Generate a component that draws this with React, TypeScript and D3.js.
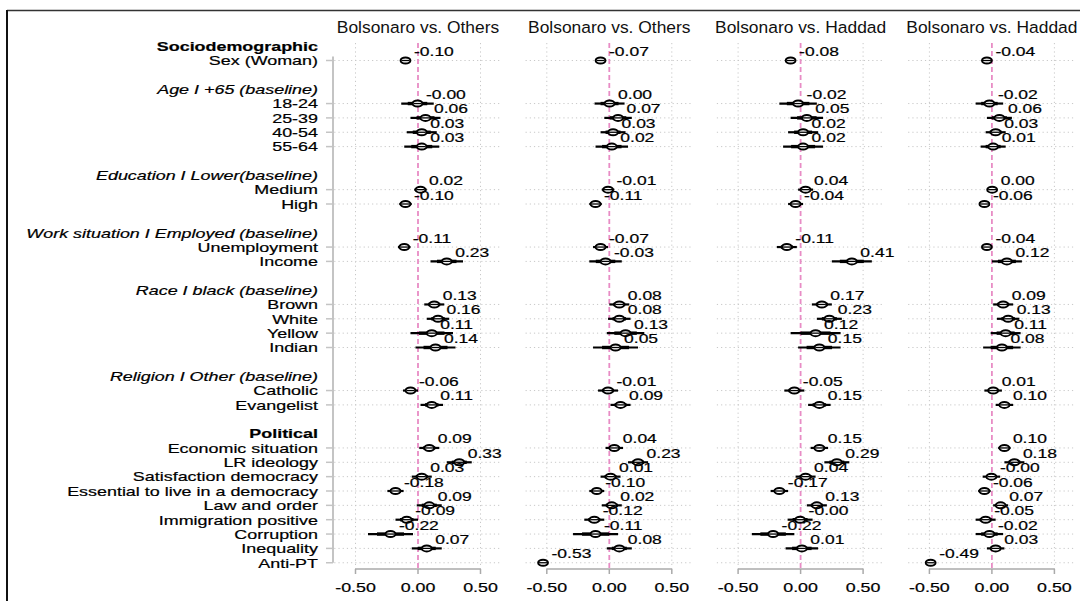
import * as d3 from "d3";

// rows from top to bottom; "" = blank spacer row
const rowLabels = [
  "Sociodemographic", "Sex (Woman)", "",
  "Age I +65 (baseline)", "18-24", "25-39", "40-54", "55-64", "",
  "Education I Lower(baseline)", "Medium", "High", "",
  "Work situation I Employed (baseline)", "Unemployment", "Income", "",
  "Race I black (baseline)", "Brown", "White", "Yellow", "Indian", "",
  "Religion I Other (baseline)", "Catholic", "Evangelist", "",
  "Political", "Economic situation", "LR ideology", "Satisfaction democracy",
  "Essential to live in a democracy", "Law and order", "Immigration positive",
  "Corruption", "Inequality", "Anti-PT",
];
const boldHeadings = ["Sociodemographic", "Political"];
const italicHeadings = [
  "Age I +65 (baseline)", "Education I Lower(baseline)",
  "Work situation I Employed (baseline)", "Race I black (baseline)",
  "Religion I Other (baseline)",
];

const items = [
  "Sex (Woman)", "18-24", "25-39", "40-54", "55-64", "Medium", "High",
  "Unemployment", "Income", "Brown", "White", "Yellow", "Indian", "Catholic",
  "Evangelist", "Economic situation", "LR ideology", "Satisfaction democracy",
  "Essential to live in a democracy", "Law and order", "Immigration positive",
  "Corruption", "Inequality", "Anti-PT",
];

const panelTitles = [
  "Bolsonaro vs. Others", "Bolsonaro vs. Others",
  "Bolsonaro vs. Haddad", "Bolsonaro vs. Haddad",
];

// point estimates (null = not in model)
const est1 = [-0.10, -0.004, 0.06, 0.03, 0.03, 0.02, -0.10, -0.11, 0.23, 0.13, 0.16, 0.11, 0.14, -0.06, 0.11, 0.09, 0.33, 0.03, -0.18, 0.09, -0.09, -0.22, 0.07, null];
const est2 = [-0.07, 0.002, 0.07, 0.03, 0.02, -0.01, -0.11, -0.07, -0.03, 0.08, 0.08, 0.13, 0.05, -0.01, 0.09, 0.04, 0.23, 0.01, -0.10, 0.02, -0.12, -0.11, 0.08, -0.53];
const est3 = [-0.08, -0.02, 0.05, 0.02, 0.02, 0.04, -0.04, -0.11, 0.41, 0.17, 0.23, 0.12, 0.15, -0.05, 0.15, 0.15, 0.29, 0.04, -0.17, 0.13, -0.004, -0.22, 0.01, null];
const est4 = [-0.04, -0.02, 0.06, 0.03, 0.01, 0.002, -0.06, -0.04, 0.12, 0.09, 0.13, 0.11, 0.08, 0.01, 0.10, 0.10, 0.18, -0.004, -0.06, 0.07, -0.05, -0.02, 0.03, -0.49];

// half width of the 95% interval
const ci1 = [0.03, 0.13, 0.12, 0.12, 0.14, 0.05, 0.05, 0.05, 0.13, 0.08, 0.09, 0.17, 0.16, 0.06, 0.09, 0.08, 0.10, 0.08, 0.065, 0.10, 0.09, 0.18, 0.12, 0];
const ci2 = [0.03, 0.12, 0.11, 0.10, 0.13, 0.05, 0.05, 0.06, 0.13, 0.08, 0.09, 0.15, 0.18, 0.08, 0.08, 0.07, 0.08, 0.08, 0.06, 0.08, 0.08, 0.18, 0.10, 0.02];
const ci3 = [0.03, 0.15, 0.13, 0.12, 0.16, 0.06, 0.06, 0.08, 0.16, 0.08, 0.10, 0.20, 0.17, 0.08, 0.09, 0.07, 0.10, 0.08, 0.07, 0.08, 0.10, 0.17, 0.13, 0];
const ci4 = [0.025, 0.11, 0.10, 0.08, 0.10, 0.04, 0.04, 0.04, 0.12, 0.08, 0.09, 0.12, 0.15, 0.07, 0.07, 0.05, 0.08, 0.07, 0.05, 0.06, 0.08, 0.11, 0.07, 0.02];

const estimates = [est1, est2, est3, est4];
const intervals = [ci1, ci2, ci3, ci4];
const xTicks = [-0.5, 0, 0.5];

const FONT = "'Liberation Sans', Arial, Helvetica, sans-serif";

// text drawn horizontally stretched, like the original export
function SText({ x, y, anchor = "start", size = 12.8, sx = 1.4, weight = "normal", italic = false, children }: any) {
  return (
    <text
      transform={`translate(${x},${y}) scale(${sx},1)`}
      textAnchor={anchor}
      fontSize={size}
      fontWeight={weight}
      fontStyle={italic ? "italic" : "normal"}
      fill="#000"
      stroke="#000"
      strokeWidth={0.2}
    >
      {children}
    </text>
  );
}

export default function App() {
  const width = 1080;
  const height = 601;

  const y = d3.scaleLinear().domain([0, rowLabels.length - 1]).range([46.15, 562.75]);
  const panelX = d3.scaleLinear().domain([0, 1]).range([418, 609.3]);
  const axisY = 569;
  const panelTop = 43;
  const fmt = (v: number) => v.toFixed(2);

  return (
    <div style={{ position: "fixed", left: 0, top: 0, width, height, overflow: "hidden", background: "#fff" }}>
      <svg width={width} height={height} style={{ display: "block", fontFamily: FONT }}>
        <rect width={width} height={height} fill="#fff" />
        {/* frame */}
        <line x1={7} x2={width + 5} y1={10.5} y2={10.5} stroke="#333" strokeWidth={1.6} />
        <line x1={7} x2={7} y1={10} y2={height + 5} stroke="#111" strokeWidth={2} />

        {/* y axis */}
        <line x1={333} x2={333} y1={y(1) - 4} y2={y(rowLabels.length - 1)} stroke="#c4c4c4" strokeWidth={2} />
        {rowLabels.map((label, i) => {
          if (!label) return null;
          const isBold = boldHeadings.includes(label);
          const isItalic = italicHeadings.includes(label);
          const isItem = !isBold && !isItalic;
          return (
            <g key={`row-${i}`}>
              {isItem && <line x1={326} x2={333} y1={y(i)} y2={y(i)} stroke="#c4c4c4" strokeWidth={1.5} />}
              <SText x={318} y={y(i) + 4.8} anchor="end" weight={isBold ? "bold" : "normal"} italic={isItalic}>
                {label}
              </SText>
            </g>
          );
        })}

        {estimates.map((est, p) => {
          const cx = panelX(p);
          const x = d3.scaleLinear().domain([-0.67, 0.67]).range([cx - 83.75, cx + 83.75]);
          const ci = intervals[p];
          return (
            <g key={`panel-${p}`}>
              <text x={cx} y={33.3} textAnchor="middle" fontSize={17.4} fill="#111">
                {panelTitles[p]}
              </text>
              {/* horizontal dotted grid */}
              {items.map((item) => {
                const ry = y(rowLabels.indexOf(item));
                return (
                  <line key={`h-${item}`} x1={x(-0.67)} x2={x(0.67)} y1={ry} y2={ry}
                    stroke="#c8c8c8" strokeWidth={1} strokeDasharray="1.2,3" />
                );
              })}
              {[-0.5, 0.5].map((t) => (
                <line key={`v-${t}`} x1={x(t)} x2={x(t)} y1={panelTop} y2={axisY}
                  stroke="#c8c8c8" strokeWidth={1} strokeDasharray="1.2,3" />
              ))}
              <line x1={x(0)} x2={x(0)} y1={panelTop} y2={axisY} stroke="#e88cc5" strokeWidth={1.8} strokeDasharray="5,3" />

              {/* bottom axis */}
              <line x1={x(-0.5)} x2={x(0.5)} y1={axisY} y2={axisY} stroke="#aaa" strokeWidth={1.5} />
              {xTicks.map((t) => (
                <g key={`t-${t}`}>
                  <line x1={x(t)} x2={x(t)} y1={axisY} y2={axisY + 5} stroke="#aaa" strokeWidth={1.5} />
                  <SText x={x(t)} y={592} anchor="middle" size={12.3} sx={1.45}>
                    {fmt(t)}
                  </SText>
                </g>
              ))}

              {/* estimates */}
              {items.map((item, k) => {
                const v = est[k];
                if (v === null) return null;
                const ry = y(rowLabels.indexOf(item));
                const hw = ci[k];
                return (
                  <g key={`pt-${item}`}>
                    <line x1={x(v - hw)} x2={x(v + hw)} y1={ry} y2={ry} stroke="#000" strokeWidth={2.2} />
                    <line x1={x(v - hw * 0.6)} x2={x(v + hw * 0.6)} y1={ry} y2={ry} stroke="#000" strokeWidth={3.4} />
                    <ellipse cx={x(v)} cy={ry} rx={4.9} ry={3} fill="#fff" stroke="#000" strokeWidth={2} />
                    <line x1={x(v) - 4} x2={x(v) + 4} y1={ry} y2={ry} stroke="#000" strokeWidth={1.3} />
                    <SText x={x(v) + 8.5} y={ry - 4.5} size={12.5}>
                      {fmt(v)}
                    </SText>
                  </g>
                );
              })}
            </g>
          );
        })}
      </svg>
    </div>
  );
}
